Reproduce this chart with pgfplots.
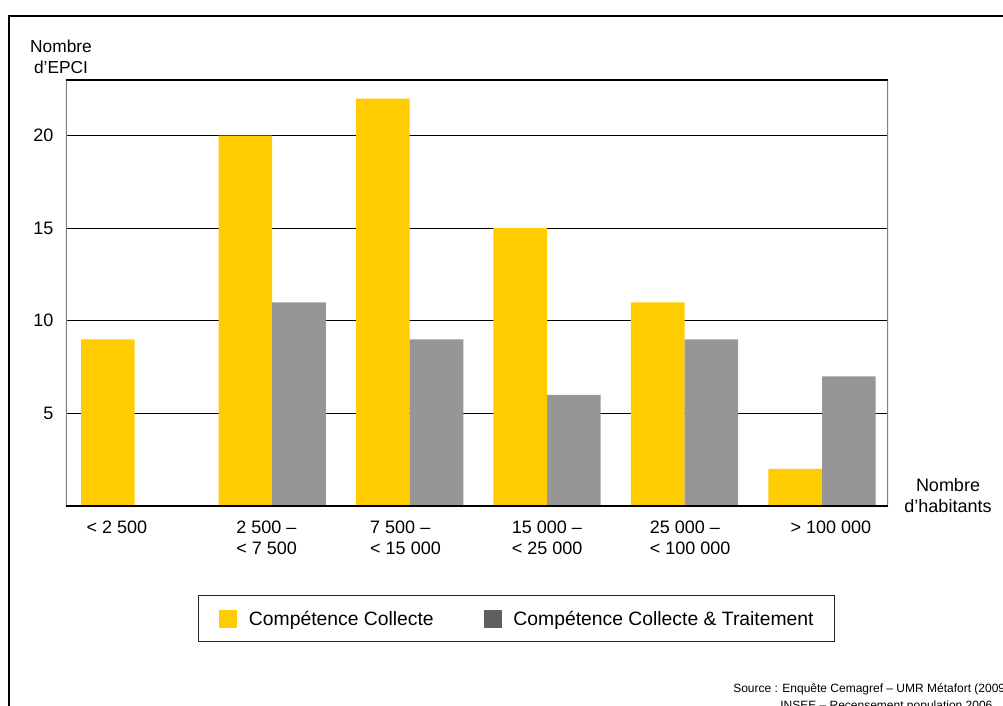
\documentclass[border=0pt]{standalone}
\usepackage{fontspec}
\setmainfont{Liberation Sans}
\usepackage{pgfplots}
\pgfplotsset{compat=1.18}
\definecolor{cyellow}{HTML}{FFCC00}
\definecolor{cgray}{HTML}{969696}
\definecolor{clgray}{HTML}{5F5F5F}
\definecolor{caxis}{HTML}{7F7F7F}
\begin{document}
\begin{tikzpicture}
\begin{scope}[x=0.75pt,y=-0.75pt]
\path[use as bounding box] (0,0) rectangle (1003,706);
\draw[line width=1.1pt] (9,720) -- (9,16) -- (1010,16);
\node[align=center, font=\fontsize{13}{15.75}\selectfont] at (61,56.5) {Nombre\\d’EPCI};
\node[align=center, font=\fontsize{13.5}{15.75}\selectfont] at (948,495.5) {Nombre\\d’habitants};
\node[anchor=base west, inner sep=0pt, font=\fontsize{9}{10}\selectfont] at (733,692) {Source : Enquête Cemagref – UMR Métafort (2009)};
\node[anchor=base west, inner sep=0pt, font=\fontsize{9}{10}\selectfont] at (780,709) {INSEE – Recensement population 2006};
\end{scope}
\begin{axis}[
  at={(49.5pt,-379.5pt)}, anchor=south west,
  width=616.5pt, height=319.5pt, scale only axis,
  xmin=-0.5, xmax=5.48, ymin=0, ymax=23,
  ybar=0pt, bar width=0.39,
  axis line style={draw=none},
  ytick={5,10,15,20},
  ymajorgrids, grid style={black, line width=0.9pt},
  major tick length=0pt,
  xtick={-0.13,0.96,1.97,3.0,4.04,5.065},
  xticklabels={{< 2 500},{2 500 –\\< 7 500},{7 500 –\\< 15 000},{15 000 –\\< 25 000},{25 000 –\\< 100 000},{> 100 000}},
  xticklabel style={align=left, anchor=north, yshift=-7.5pt},
  tick label style={font=\fontsize{13.5}{15.75}\selectfont},
  /pgf/number format/assume math mode=true,
  yticklabel style={anchor=east, xshift=-6pt},
  legend style={at={(0.548,-0.265)}, anchor=center, draw=black!85, line width=0.8pt,
    legend columns=2, font=\fontsize{14.5}{17}\selectfont,
    inner xsep=15.5pt, inner ysep=10.5pt,
    nodes={inner sep=0pt, anchor=west},
    /tikz/every odd column/.append style={column sep=8.75pt},
    /tikz/every even column/.append style={column sep=37.5pt}},
  legend cell align=left,
]
\addplot[fill=cyellow, draw=none,
  legend image code/.code={\fill[cyellow] (0pt,-6.75pt) rectangle (13.5pt,6.75pt);}]
  coordinates {(0,9) (1,20) (2,22) (3,15) (4,11) (5,2)};
\addlegendentry{Compétence Collecte}
\addplot[fill=cgray, draw=none,
  legend image code/.code={\fill[clgray] (0pt,-6.75pt) rectangle (13.5pt,6.75pt);}]
  coordinates {(1,11) (2,9) (3,6) (4,9) (5,7)};
\addlegendentry{Compétence Collecte \& Traitement}
\draw[caxis, line width=1.1pt] (rel axis cs:0,0) -- (rel axis cs:0,1);
\draw[caxis, line width=1.1pt] (rel axis cs:1,0) -- (rel axis cs:1,1);
\draw[black, line width=1.1pt] (rel axis cs:0,0) -- (rel axis cs:1,0);
\draw[black, line width=1.1pt] (rel axis cs:0,1) -- (rel axis cs:1,1);
\end{axis}
\end{tikzpicture}
\end{document}
